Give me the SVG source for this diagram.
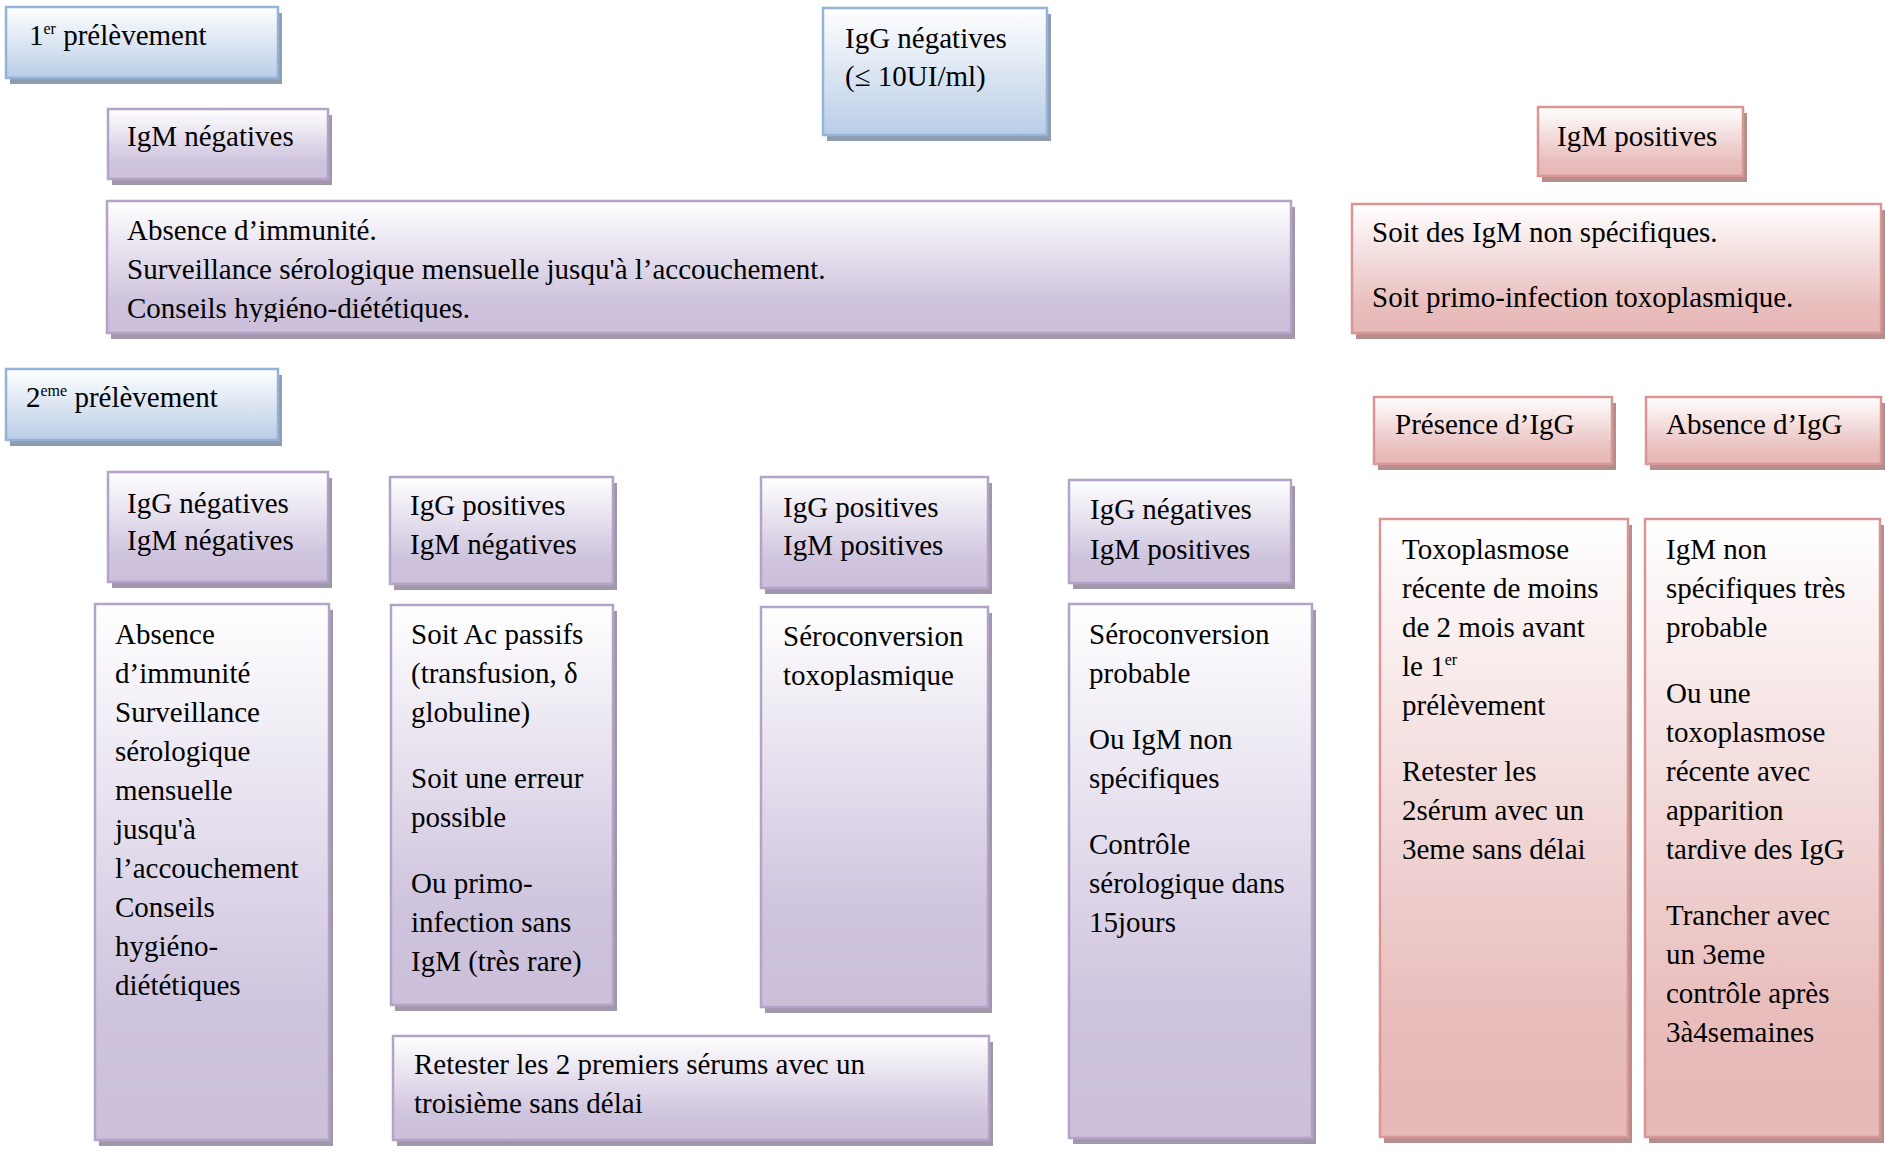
<svg xmlns="http://www.w3.org/2000/svg" width="1885" height="1155" viewBox="0 0 1885 1155">
<defs>
<linearGradient id="gb" x1="0" y1="0" x2="0" y2="1"><stop offset="0" stop-color="#ffffff"/><stop offset="1" stop-color="#b9cde6"/></linearGradient>
<linearGradient id="gp" x1="0" y1="0" x2="0" y2="1"><stop offset="0" stop-color="#ffffff"/><stop offset="0.75" stop-color="#cfc4de"/><stop offset="1" stop-color="#cbbfd9"/></linearGradient>
<linearGradient id="gr" x1="0" y1="0" x2="0" y2="1"><stop offset="0" stop-color="#ffffff"/><stop offset="0.8" stop-color="#e8bdbc"/><stop offset="1" stop-color="#e6b8b7"/></linearGradient>
<clipPath id="clipBig"><rect x="107" y="201" width="1184" height="121"/></clipPath>
</defs>
<style>
text{font-family:"Liberation Serif","Times New Roman",serif;font-size:29px;fill:#000}
.sup{font-size:16px}
.b{fill:url(#gb);stroke:#94b3d9;stroke-width:2.5}
.p{fill:url(#gp);stroke:#b4a3c9;stroke-width:2.5}
.r{fill:url(#gr);stroke:#d99694;stroke-width:2.5}
.sb{fill:#8f9cae}
.sp{fill:#a197aa}
.sr{fill:#b38e8d}
</style>
<rect width="1885" height="1155" fill="#ffffff"/>
<g id="connectors"/>

<g id="n-1er">
<rect class="sb" x="10" y="13" width="272" height="71"/>
<rect class="b" x="6" y="7" width="272" height="71"/>
<text x="29" y="45">1<tspan class="sup" dy="-11">er</tspan><tspan dy="11"> prélèvement</tspan></text>
</g>

<g id="n-iggneg">
<rect class="sb" x="827" y="14" width="224" height="127"/>
<rect class="b" x="823" y="8" width="224" height="127"/>
<text x="845" y="48">IgG négatives</text>
<text x="845" y="86">(≤ 10UI/ml)</text>
</g>

<g id="n-igmneg">
<rect class="sp" x="112" y="115" width="220" height="70"/>
<rect class="p" x="108" y="109" width="220" height="70"/>
<text x="127" y="146">IgM négatives</text>
</g>

<g id="n-igmpos">
<rect class="sr" x="1542" y="113" width="205" height="69"/>
<rect class="r" x="1538" y="107" width="205" height="69"/>
<text x="1557" y="146">IgM positives</text>
</g>

<g id="n-absence1">
<rect class="sp" x="111" y="207" width="1184" height="132"/>
<rect class="p" x="107" y="201" width="1184" height="132"/>
<g clip-path="url(#clipBig)">
<text x="127" y="240">Absence d’immunité.</text>
<text x="127" y="279">Surveillance sérologique mensuelle jusqu'à l’accouchement.</text>
<text x="127" y="318">Conseils hygiéno-diététiques.</text>
</g>
</g>

<g id="n-soitdes">
<rect class="sr" x="1356" y="210" width="529" height="129"/>
<rect class="r" x="1352" y="204" width="529" height="129"/>
<text x="1372" y="242">Soit des IgM non spécifiques.</text>
<text x="1372" y="307">Soit primo-infection toxoplasmique.</text>
</g>

<g id="n-2eme">
<rect class="sb" x="10" y="375" width="272" height="71"/>
<rect class="b" x="6" y="369" width="272" height="71"/>
<text x="26" y="407">2<tspan class="sup" dy="-11">eme</tspan><tspan dy="11"> prélèvement</tspan></text>
</g>

<g id="n-presence">
<rect class="sr" x="1378" y="403" width="238" height="67"/>
<rect class="r" x="1374" y="397" width="238" height="67"/>
<text x="1395" y="434">Présence d’IgG</text>
</g>

<g id="n-absigg">
<rect class="sr" x="1650" y="403" width="235" height="67"/>
<rect class="r" x="1646" y="397" width="235" height="67"/>
<text x="1666" y="434">Absence d’IgG</text>
</g>

<g id="n-negneg">
<rect class="sp" x="112" y="478" width="220" height="110"/>
<rect class="p" x="108" y="472" width="220" height="110"/>
<text x="127" y="513">IgG négatives</text>
<text x="127" y="550">IgM négatives</text>
</g>

<g id="n-posneg">
<rect class="sp" x="394" y="483" width="223" height="107"/>
<rect class="p" x="390" y="477" width="223" height="107"/>
<text x="410" y="515">IgG positives</text>
<text x="410" y="554">IgM négatives</text>
</g>

<g id="n-pospos">
<rect class="sp" x="765" y="483" width="227" height="111"/>
<rect class="p" x="761" y="477" width="227" height="111"/>
<text x="783" y="517">IgG positives</text>
<text x="783" y="555">IgM positives</text>
</g>

<g id="n-negpos">
<rect class="sp" x="1073" y="486" width="222" height="103"/>
<rect class="p" x="1069" y="480" width="222" height="103"/>
<text x="1090" y="519">IgG négatives</text>
<text x="1090" y="559">IgM positives</text>
</g>

<g id="n-absence2">
<rect class="sp" x="99" y="610" width="234" height="536"/>
<rect class="p" x="95" y="604" width="234" height="536"/>
<text x="115" y="644">Absence</text>
<text x="115" y="683">d’immunité</text>
<text x="115" y="722">Surveillance</text>
<text x="115" y="761">sérologique</text>
<text x="115" y="800">mensuelle</text>
<text x="115" y="839">jusqu'à</text>
<text x="115" y="878">l’accouchement</text>
<text x="115" y="917">Conseils</text>
<text x="115" y="956">hygiéno-</text>
<text x="115" y="995">diététiques</text>
</g>

<g id="n-soitac">
<rect class="sp" x="395" y="611" width="222" height="400"/>
<rect class="p" x="391" y="605" width="222" height="400"/>
<text x="411" y="644">Soit Ac passifs</text>
<text x="411" y="683">(transfusion, δ</text>
<text x="411" y="722">globuline)</text>
<text x="411" y="788">Soit une erreur</text>
<text x="411" y="827">possible</text>
<text x="411" y="893">Ou primo-</text>
<text x="411" y="932">infection sans</text>
<text x="411" y="971">IgM (très rare)</text>
</g>

<g id="n-retester">
<rect class="sp" x="397" y="1042" width="596" height="104"/>
<rect class="p" x="393" y="1036" width="596" height="104"/>
<text x="414" y="1074">Retester les 2 premiers sérums avec un</text>
<text x="414" y="1113">troisième sans délai</text>
</g>

<g id="n-serotox">
<rect class="sp" x="765" y="613" width="227" height="400"/>
<rect class="p" x="761" y="607" width="227" height="400"/>
<text x="783" y="646">Séroconversion</text>
<text x="783" y="685">toxoplasmique</text>
</g>

<g id="n-seroprob">
<rect class="sp" x="1073" y="610" width="243" height="534"/>
<rect class="p" x="1069" y="604" width="243" height="534"/>
<text x="1089" y="644">Séroconversion</text>
<text x="1089" y="683">probable</text>
<text x="1089" y="749">Ou IgM non</text>
<text x="1089" y="788">spécifiques</text>
<text x="1089" y="854">Contrôle</text>
<text x="1089" y="893">sérologique dans</text>
<text x="1089" y="932">15jours</text>
</g>

<g id="n-toxo">
<rect class="sr" x="1384" y="525" width="248" height="618"/>
<rect class="r" x="1380" y="519" width="248" height="618"/>
<text x="1402" y="559">Toxoplasmose</text>
<text x="1402" y="598">récente de moins</text>
<text x="1402" y="637">de 2 mois avant</text>
<text x="1402" y="676">le 1<tspan class="sup" dy="-11">er</tspan></text>
<text x="1402" y="715">prélèvement</text>
<text x="1402" y="781">Retester les</text>
<text x="1402" y="820">2sérum avec un</text>
<text x="1402" y="859">3eme sans délai</text>
</g>

<g id="n-igmnon">
<rect class="sr" x="1649" y="525" width="235" height="618"/>
<rect class="r" x="1645" y="519" width="235" height="618"/>
<text x="1666" y="559">IgM non</text>
<text x="1666" y="598">spécifiques très</text>
<text x="1666" y="637">probable</text>
<text x="1666" y="703">Ou une</text>
<text x="1666" y="742">toxoplasmose</text>
<text x="1666" y="781">récente avec</text>
<text x="1666" y="820">apparition</text>
<text x="1666" y="859">tardive des IgG</text>
<text x="1666" y="925">Trancher avec</text>
<text x="1666" y="964">un 3eme</text>
<text x="1666" y="1003">contrôle après</text>
<text x="1666" y="1042">3à4semaines</text>
</g>
</svg>
